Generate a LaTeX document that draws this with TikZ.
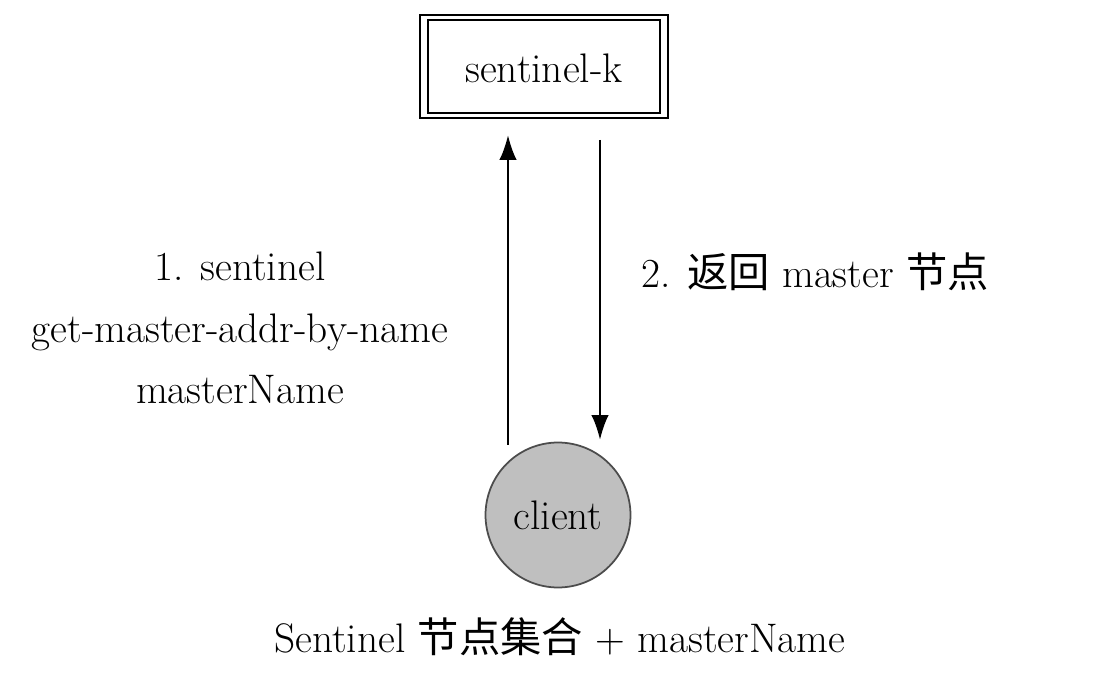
\documentclass[tikz,border=0pt]{standalone}
\usepackage{fontspec}
\usetikzlibrary{arrows.meta}
\newfontfamily\cjk{Noto Sans CJK SC}
\begin{document}
\begin{tikzpicture}[x=0.02cm,y=-0.02cm]
\tikzstyle{every node}+=[font=\fontsize{23.5}{35}\selectfont]
\useasboundingbox (0,0) rectangle (1098,685);
\draw [black, line width=1.6pt] (420,15) rectangle (668,118);
\draw [black, line width=0.8pt] (428,20) rectangle (660,113);
\node (sk) at (544,68) {sentinel-k};
\node [circle, draw=black!70, fill=black!25, line width=1pt, minimum size=2.9cm, inner sep=0pt] (cl) at (558,515) {client};
\coordinate (upS) at (508,445);
\coordinate (upE) at (508,135);
\coordinate (dnS) at (600,140);
\coordinate (dnE) at (600,440);
\draw [black, line width=1.4pt, -{Latex[length=5mm,width=3.5mm]}] (upS) -- (upE);
\draw [black, line width=1.4pt, -{Latex[length=5mm,width=3.5mm]}] (dnS) -- (dnE);
\node [align=center] (req) at (240,328) {1. sentinel\\get-master-addr-by-name\\masterName};
\node (rep) at (815,272) {2. {\cjk 返回} master {\cjk 节点}};
\node (set) at (560,637) {Sentinel {\cjk 节点集合} + masterName};
\end{tikzpicture}
\end{document}
